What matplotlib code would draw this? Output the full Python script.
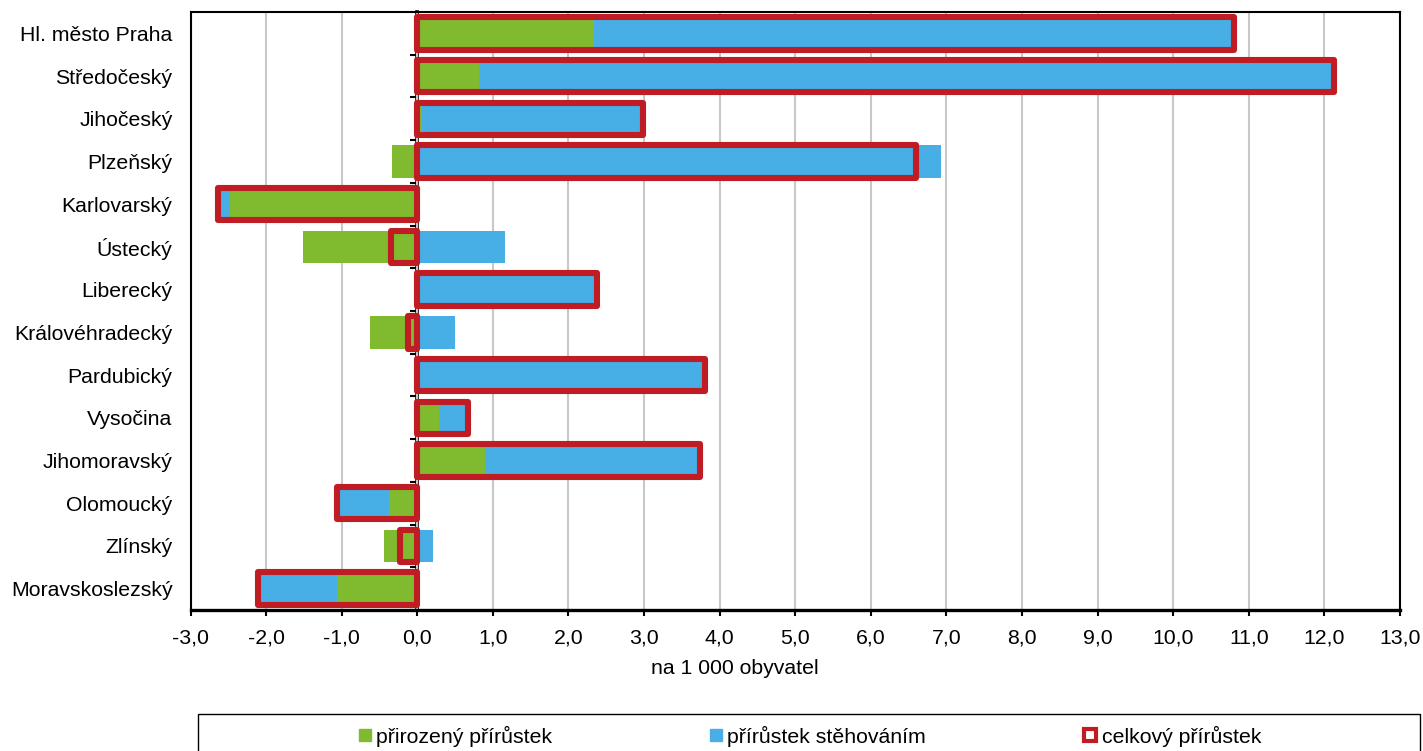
"""Natural and migration population increase by region (per 1 000 inhabitants)."""
import numpy as np
import matplotlib
matplotlib.use("Agg")
import matplotlib.pyplot as plt
from matplotlib.lines import Line2D
from matplotlib.patches import Rectangle
from matplotlib.ticker import FuncFormatter, MultipleLocator

plt.rcParams["font.family"] = ["Liberation Sans", "DejaVu Sans"]

regions = ["Hl. město Praha", "Středočeský", "Jihočeský", "Plzeňský",
           "Karlovarský", "Ústecký", "Liberecký", "Královéhradecký",
           "Pardubický", "Vysočina", "Jihomoravský", "Olomoucký",
           "Zlínský", "Moravskoslezský"]
natural = [2.34, 0.81, 0.06, -0.33, -2.48, -1.51, 0.02, -0.62,
           0.02, 0.29, 0.89, -0.38, -0.44, -1.06]
migration = [8.47, 11.32, 2.93, 6.93, -0.15, 1.16, 2.36, 0.50,
             3.79, 0.38, 2.85, -0.68, 0.21, -1.05]
total = [n + m for n, m in zip(natural, migration)]

GREEN = "#80BA2E"
BLUE = "#48AEE6"
RED = "#C01C24"
FS = 15.3

W, H = 1423, 751
fig = plt.figure(figsize=(W / 100, H / 100), dpi=100)
ax = fig.add_axes([190.5 / W, (H - 610) / H, (1400 - 190.5) / W, (610 - 12) / H])

nat = np.array(natural)
mig = np.array(migration)
y = np.arange(len(regions))

# Excel-like stacking: positives and negatives stack separately
mig_left = np.where(np.sign(mig) == np.sign(nat), nat, 0.0)

bh = 0.76
ax.barh(y, nat, height=bh, color=GREEN, zorder=3)
ax.barh(y, mig, left=mig_left, height=bh, color=BLUE, zorder=3)
ax.barh(y, total, height=bh, fill=False, edgecolor=RED, linewidth=4.4,
        joinstyle="round", zorder=4)

ax.set_xlim(-3, 13)
ax.set_ylim(len(regions) - 0.5, -0.5)
ax.xaxis.set_major_locator(MultipleLocator(1))
ax.xaxis.set_major_formatter(FuncFormatter(lambda v, p: "{:.1f}".format(v).replace(".", ",")))
ax.set_yticks(y)
ax.set_yticklabels(regions)
ax.tick_params(axis="y", length=0, pad=13, labelsize=FS)
ax.tick_params(axis="x", length=4, width=1.5, pad=9, labelsize=FS)
ax.grid(axis="x", color="#C8C8C8", lw=1.5, zorder=0)
ax.set_axisbelow(True)
ax.set_xlabel("na 1 000 obyvatel", fontsize=FS)
ax.xaxis.set_label_coords((735 - 190.5) / (1400 - 190.5), -0.082)

for side in ("top", "right", "left"):
    ax.spines[side].set_linewidth(1.5)
ax.spines["bottom"].set_linewidth(2.4)

# Category axis crossing at zero
sec = ax.secondary_yaxis(3 / 16)
sec.set_yticks(np.arange(1, len(regions) + 1) - 0.5)
sec.set_yticklabels([])
sec.tick_params(length=5, width=1.5)
sec.spines["left"].set_linewidth(2.6)
sec.spines["left"].set_zorder(5)

# Legend box
fig.patches.append(Rectangle((198 / W, -0.02), (1420 - 198) / W, (H - 714) / H + 0.02,
                             transform=fig.transFigure, fill=False,
                             edgecolor="black", lw=1.0))
handles = [
    Line2D([], [], ls="", marker="s", ms=8, mfc=GREEN, mec=GREEN),
    Line2D([], [], ls="", marker="s", ms=8, mfc=BLUE, mec=BLUE),
    Line2D([], [], ls="", marker="s", ms=8.5, mfc="white", mec=RED, mew=3),
]
labels = ["přirozený přírůstek", "přírůstek stěhováním", "celkový přírůstek"]
fig.legend(handles, labels, loc="center left", bbox_to_anchor=(359 / W, (H - 736) / H),
           ncol=3, frameon=False, fontsize=FS, handlelength=0.55,
           handletextpad=0.25, columnspacing=7.45, borderaxespad=0, borderpad=0)

fig.savefig("out.png", dpi=100)
